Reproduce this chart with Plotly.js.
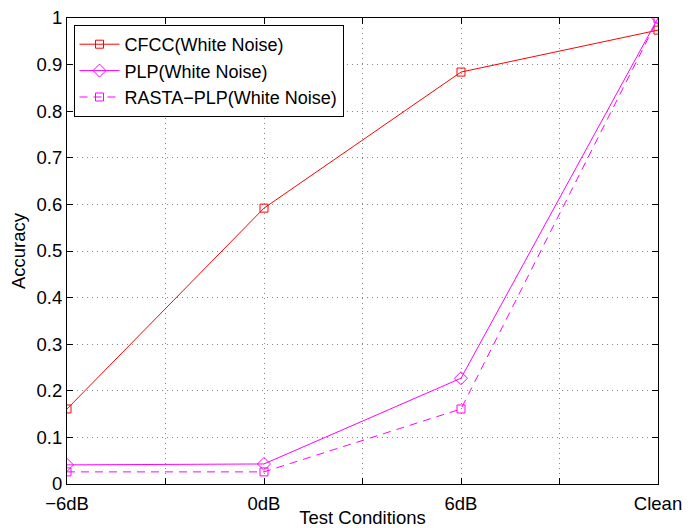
<!DOCTYPE html>
<html>
<head>
<meta charset="utf-8">
<script src="https://cdn.plot.ly/plotly-3.0.1.min.js"></script>
<style>html,body{margin:0;padding:0;background:#fff;}#chart{width:696px;height:528px;}</style>
</head>
<body>
<div id="chart"></div>
<script>
var conditionPos = [0, 2, 4, 6];
var tickPos = [0, 1, 2, 3, 4, 5, 6];
var tickLabels = ['\u22126dB', '', '0dB', '', '6dB', '', 'Clean'];
var cfcc = [0.161, 0.592, 0.884, 0.974];
var plp = [0.041, 0.043, 0.227, 1.0];
var rasta = [0.026, 0.026, 0.161, 0.998];
var yTicks = [0, 0.1, 0.2, 0.3, 0.4, 0.5, 0.6, 0.7, 0.8, 0.9, 1];
var yLabels = ['0', '0.1', '0.2', '0.3', '0.4', '0.5', '0.6', '0.7', '0.8', '0.9', '1'];

var font = 'Liberation Sans, Arial, sans-serif';
var traces = [
  {x: conditionPos, y: cfcc, name: 'CFCC(White Noise)', mode: 'lines+markers',
   line: {color: '#ff0000', width: 1},
   marker: {symbol: 'square-open', size: 8, color: '#ff0000', line: {width: 1}}},
  {x: conditionPos, y: plp, name: 'PLP(White Noise)', mode: 'lines+markers',
   line: {color: '#ff00ff', width: 1},
   marker: {symbol: 'diamond-open', size: 10, color: '#ff00ff', line: {width: 1}}},
  {x: conditionPos, y: rasta, name: 'RASTA\u2212PLP(White Noise)', mode: 'lines+markers',
   line: {color: '#ff00ff', width: 1, dash: '8px,6px'},
   marker: {symbol: 'square-open', size: 8, color: '#ff00ff', line: {width: 1}}}
];

var layout = {
  width: 696, height: 528,
  margin: {l: 67, r: 38, t: 18, b: 44},
  paper_bgcolor: '#fff', plot_bgcolor: '#fff',
  font: {family: font, size: 18.5, color: '#000'},
  showlegend: true,
  legend: {x: 0.011, y: 0.985, xanchor: 'left', yanchor: 'top',
    bgcolor: '#fff', bordercolor: '#000', borderwidth: 1, itemwidth: 40,
    font: {family: font, size: 18, color: '#000'}, tracegroupgap: 0},
  xaxis: {range: [0, 6], tickvals: tickPos, ticktext: tickLabels,
    ticks: 'inside', ticklen: 6, tickcolor: '#000', mirror: 'ticks',
    showline: true, linecolor: '#000', linewidth: 1,
    showgrid: true, gridcolor: '#888', griddash: '1px,4px', gridwidth: 1,
    zeroline: false, tickfont: {size: 18.5}, ticklabelstandoff: 3,
    title: {text: 'Test Conditions', standoff: 2, font: {size: 18.5}}},
  yaxis: {range: [0, 1], tickvals: yTicks, ticktext: yLabels,
    ticks: 'inside', ticklen: 6, tickcolor: '#000', mirror: 'ticks',
    showline: true, linecolor: '#000', linewidth: 1,
    showgrid: true, gridcolor: '#888', griddash: '1px,4px', gridwidth: 1,
    zeroline: false, tickfont: {size: 18.5},
    title: {text: 'Accuracy', standoff: 6, font: {size: 18.5}}}
};

Plotly.newPlot('chart', traces, layout, {displayModeBar: false, staticPlot: true});
</script>
</body>
</html>
